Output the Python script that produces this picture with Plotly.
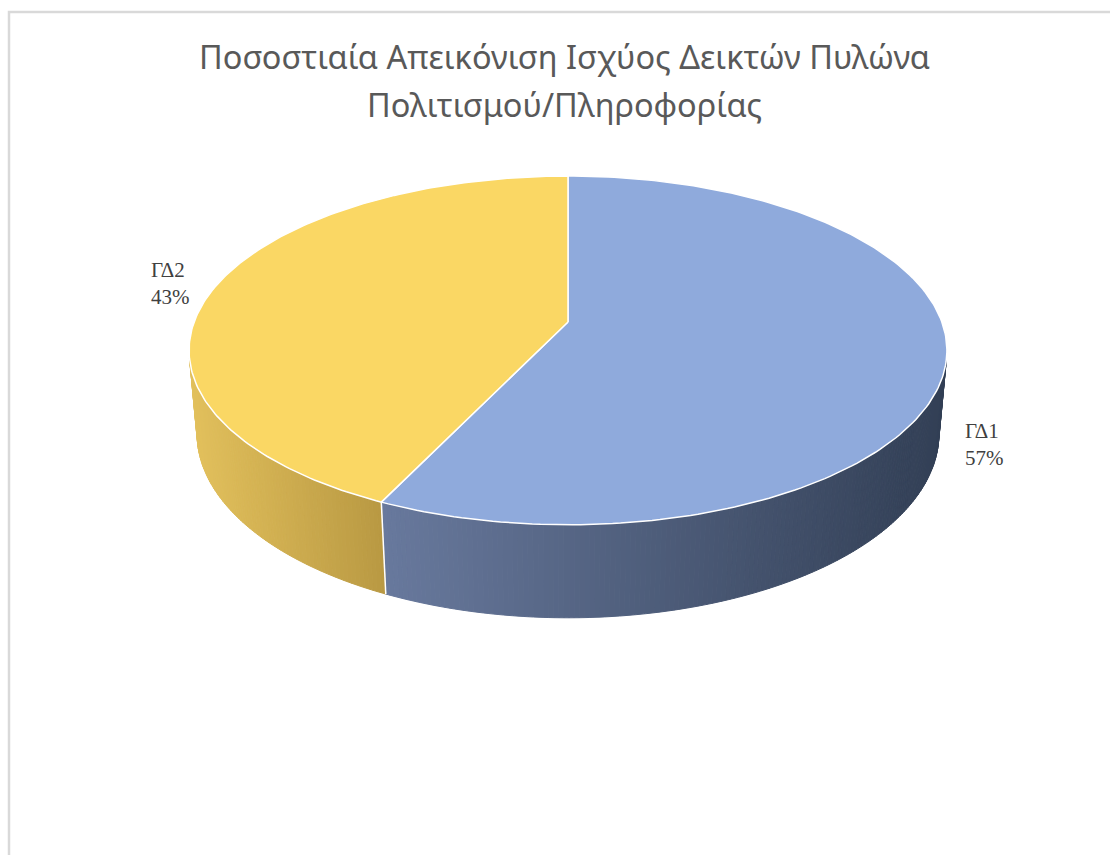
import numpy as np
import plotly.graph_objects as go

# ---- data ----
categories = ["ΓΔ1", "ΓΔ2"]
values = [57, 43]
title_lines = ["Ποσοστιαία Απεικόνιση Ισχύος Δεικτών Πυλώνα", "Πολιτισμού/Πληροφορίας"]

# ---- style ----
top_colors = ["#8FAADC", "#FAD764"]
side_light = [(104, 121, 157), (226, 192, 92)]
side_dark = [(50, 63, 85), (184, 152, 66)]
label_pos = [(963, 444), (149, 283)]

W, H = 1110, 855
CX, CY = 568, 322
PHI = np.radians(27.0)
DIST = 5.47
FOCAL = 2045.0
THICK = 0.2524


def project(X, Y, Z):
    d = DIST - Y * np.sin(PHI) - Z * np.cos(PHI)
    px = CX + FOCAL * X / d
    py = CY - FOCAL * (Y * np.cos(PHI) - Z * np.sin(PHI)) / d
    return px, py


def rim(theta, y):
    return project(np.sin(theta), y, -np.cos(theta))


def lerp(c0, c1, t):
    return "rgb(%d,%d,%d)" % tuple(int(round(a + (b - a) * t)) for a, b in zip(c0, c1))


total = float(sum(values))
bounds = np.concatenate([[0.0], np.cumsum(values) / total]) * 2 * np.pi

# visible side range (normal faces camera)
c = -1.0 / (DIST * np.cos(PHI))
vis0 = np.arccos(c)
vis1 = 2 * np.pi - vis0

fig = go.Figure()

# ---- side walls ----
for i in range(len(values)):
    a0, a1 = max(bounds[i], vis0), min(bounds[i + 1], vis1)
    if a1 <= a0:
        continue
    n = max(int(np.degrees(a1 - a0) * 1.5), 2)
    th = np.linspace(a0, a1, n + 1)
    tx, ty = rim(th, 0.0)
    bx, by = rim(th, -THICK)
    xmin, xmax = min(tx.min(), bx.min()), max(tx.max(), bx.max())
    for k in range(n):
        xs = [tx[k], tx[k + 1], bx[k + 1], bx[k], tx[k]]
        ys = [ty[k], ty[k + 1], by[k + 1], by[k], ty[k]]
        t = ((tx[k] + tx[k + 1]) / 2 - xmin) / (xmax - xmin)
        col = lerp(side_light[i], side_dark[i], t)
        fig.add_trace(go.Scatter(x=xs, y=ys, mode="lines", fill="toself",
                                 fillcolor=col, line=dict(color=col, width=1),
                                 hoverinfo="skip", showlegend=False))

# white separators on the side wall
for b in bounds:
    if vis0 < b < vis1:
        px0, py0 = rim(b, 0.0)
        px1, py1 = rim(b, -THICK)
        fig.add_trace(go.Scatter(x=[px0, px1], y=[py0, py1], mode="lines",
                                 line=dict(color="white", width=1.5),
                                 hoverinfo="skip", showlegend=False))

# ---- top faces ----
for i in range(len(values)):
    th = np.linspace(bounds[i], bounds[i + 1], 200)
    ax, ay = rim(th, 0.0)
    cx0, cy0 = project(0.0, 0.0, 0.0)
    xs = np.concatenate([[cx0], ax, [cx0]])
    ys = np.concatenate([[cy0], ay, [cy0]])
    fig.add_trace(go.Scatter(x=xs, y=ys, mode="lines", fill="toself",
                             fillcolor=top_colors[i], line=dict(color="white", width=1.5),
                             hoverinfo="skip", showlegend=False))

# ---- labels ----
annotations = []
for i, cat in enumerate(categories):
    pct = int(round(100 * values[i] / total))
    annotations.append(dict(x=label_pos[i][0], y=label_pos[i][1], xref="x", yref="y",
                            text=f"{cat}<br>{pct}%", showarrow=False, xanchor="left",
                            yanchor="middle", align="left",
                            font=dict(family="Liberation Serif", size=21, color="#404040")))

for j, line in enumerate(title_lines):
    annotations.append(dict(x=564, y=56 + 48 * j, xref="x", yref="y", text=line,
                            showarrow=False, xanchor="center", yanchor="middle",
                            font=dict(family="Noto Sans", size=32.5, color="#595959")))

fig.update_layout(
    width=W, height=H,
    margin=dict(l=0, r=0, t=0, b=0),
    paper_bgcolor="white", plot_bgcolor="white",
    xaxis=dict(range=[0, W], visible=False, fixedrange=True),
    yaxis=dict(range=[H, 0], visible=False, fixedrange=True),
    annotations=annotations,
    shapes=[dict(type="rect", xref="x", yref="y", x0=9, y0=12, x1=W + 20, y1=H + 20,
                 line=dict(color="#D9D9D9", width=2.5), fillcolor="rgba(0,0,0,0)", layer="below")],
)

fig.write_html("out.html", config={"displayModeBar": False},
               post_script="document.body.style.margin='0';")
